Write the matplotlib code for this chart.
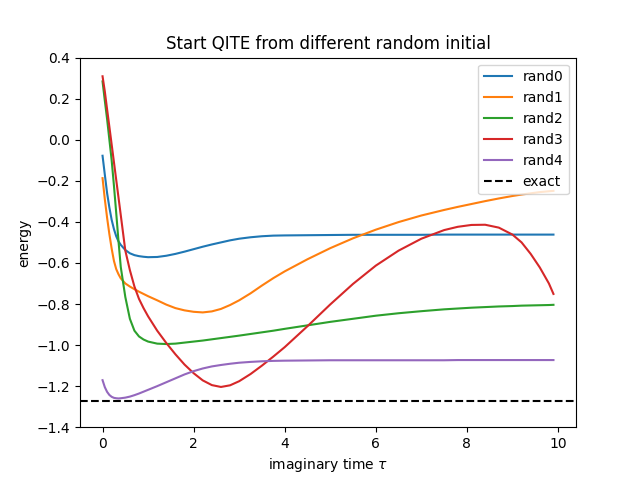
import matplotlib
matplotlib.use("Agg")
import matplotlib.pyplot as plt

tau = [0, 0.05, 0.1, 0.15, 0.2, 0.25, 0.3, 0.35, 0.4, 0.5, 0.6, 0.7, 0.8, 0.9, 1.0,
       1.2, 1.4, 1.6, 1.8, 2.0, 2.2, 2.4, 2.6, 2.8, 3.0, 3.25, 3.5, 3.75, 4.0, 4.5,
       5.0, 5.5, 6.0, 6.5, 7.0, 7.5, 7.8, 8.1, 8.4, 8.7, 9.0, 9.2, 9.4, 9.6, 9.8, 9.9]

rand0 = [-0.078, -0.17, -0.26, -0.33, -0.39, -0.435, -0.47, -0.495, -0.512, -0.537,
         -0.553, -0.562, -0.567, -0.570, -0.572, -0.571, -0.565, -0.556, -0.545,
         -0.533, -0.521, -0.510, -0.500, -0.490, -0.482, -0.475, -0.470, -0.467,
         -0.466, -0.465, -0.464, -0.463, -0.463, -0.463, -0.463, -0.462, -0.462,
         -0.462, -0.462, -0.462, -0.462, -0.462, -0.462, -0.462, -0.462, -0.462]

rand1 = [-0.187, -0.29, -0.38, -0.46, -0.53, -0.59, -0.63, -0.655, -0.675, -0.700,
         -0.715, -0.728, -0.740, -0.751, -0.762, -0.782, -0.803, -0.820, -0.831,
         -0.838, -0.841, -0.836, -0.824, -0.805, -0.782, -0.748, -0.710, -0.674,
         -0.641, -0.582, -0.528, -0.480, -0.438, -0.401, -0.369, -0.342, -0.327,
         -0.313, -0.299, -0.286, -0.274, -0.267, -0.261, -0.255, -0.251, -0.249]

rand2 = [0.284, 0.19, 0.10, 0.00, -0.10, -0.223, -0.356, -0.493, -0.62, -0.766,
         -0.872, -0.93, -0.958, -0.973, -0.983, -0.993, -0.995, -0.993, -0.988,
         -0.983, -0.978, -0.972, -0.966, -0.960, -0.954, -0.946, -0.938, -0.930,
         -0.921, -0.904, -0.887, -0.872, -0.857, -0.845, -0.835, -0.826, -0.822,
         -0.818, -0.815, -0.812, -0.810, -0.808, -0.807, -0.806, -0.805, -0.804]

rand3 = [0.309, 0.235, 0.148, 0.063, -0.023, -0.109, -0.195, -0.281, -0.367, -0.54,
         -0.635, -0.715, -0.775, -0.82, -0.86, -0.93, -0.99, -1.045, -1.095, -1.137,
         -1.172, -1.195, -1.204, -1.196, -1.176, -1.141, -1.100, -1.056, -1.010, -0.908,
         -0.802, -0.702, -0.613, -0.540, -0.482, -0.440, -0.424, -0.415, -0.414, -0.428,
         -0.462, -0.500, -0.556, -0.622, -0.700, -0.751]

rand4 = [-1.171, -1.205, -1.228, -1.243, -1.252, -1.257, -1.259, -1.26, -1.259, -1.256,
         -1.251, -1.244, -1.236, -1.227, -1.218, -1.200, -1.181, -1.162, -1.143,
         -1.127, -1.114, -1.104, -1.097, -1.091, -1.086, -1.082, -1.079, -1.077,
         -1.076, -1.075, -1.074, -1.074, -1.074, -1.074, -1.074, -1.074, -1.073,
         -1.073, -1.073, -1.073, -1.073, -1.073, -1.073, -1.073, -1.073, -1.073]

series = [("rand0", rand0), ("rand1", rand1), ("rand2", rand2),
          ("rand3", rand3), ("rand4", rand4)]
exact = -1.272

fig, ax = plt.subplots(figsize=(6.4, 4.8), dpi=100)
for name, vals in series:
    ax.plot(tau, vals, label=name)
ax.axhline(exact, color="black", linestyle="--", label="exact")
ax.set_ylim(-1.4, 0.4)
ax.set_xlabel(r"imaginary time $\tau$")
ax.set_ylabel("energy")
ax.set_title("Start QITE from different random initial")
ax.legend(loc="upper right")
fig.savefig("out.png")
